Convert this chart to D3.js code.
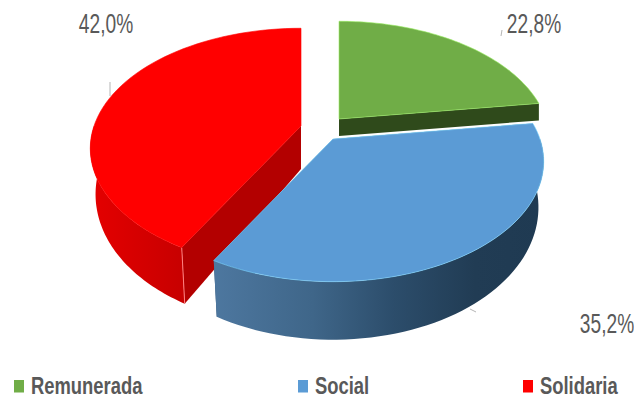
<!DOCTYPE html>
<html>
<head>
<meta charset="utf-8">
<script src="https://cdn.jsdelivr.net/npm/d3@7/dist/d3.min.js"></script>
<style>
html,body{margin:0;padding:0;background:#fff}
svg{display:block}
text{font-family:"Liberation Sans",sans-serif;fill:#595959}
</style>
</head>
<body>
<svg id="chart" width="634" height="402"></svg>
<script>
// Time use by kind of work, shown as an exploded 3D pie
const categories = ["Remunerada", "Social", "Solidaria"];
const shares = [22.8, 35.2, 42.0];
const shareLabels = ["22,8%", "35,2%", "42,0%"];

const topColors = ["#70ad47", "#5b9bd5", "#ff0000"];
const innerWallColors = ["#2f4a1b", "#2f5272", "#b30000"];

// Camera and per-slice layout, indexed like the categories
const radius = 207, tilt = 116, perspective = 0.187;
const apexes = [[339, 119], [333, 139], [301, 126]];
const depthAtSide = [17, 43, 43], depthGrowth = [0, 15, 15], wallTaper = [1, 0.975, 0.975];
const labelAnchors = [[534, 33], [607, 333], [106, 33]];
const leaderStubs = [[[502, 30], [501, 36]], [[470, 309], [476, 312]], [[110, 82], [110, 96]]];
const legendX = [14, 298, 523];

const svg = d3.select("#chart");
const defs = svg.append("defs");

const blueWall = defs.append("linearGradient").attr("id", "wall-social")
  .attr("gradientUnits", "userSpaceOnUse").attr("x1", 215).attr("x2", 540).attr("y1", 0).attr("y2", 0);
[[0, "#4d779f"], [0.3, "#3f6689"], [0.55, "#2c4d6b"], [0.8, "#213c54"], [1, "#1f3a52"]]
  .forEach(([o, c]) => blueWall.append("stop").attr("offset", o).attr("stop-color", c));

const redWall = defs.append("linearGradient").attr("id", "wall-solidaria")
  .attr("gradientUnits", "userSpaceOnUse").attr("x1", 92).attr("x2", 182).attr("y1", 0).attr("y2", 0);
[[0, "#e40000"], [1, "#c80000"]]
  .forEach(([o, c]) => redWall.append("stop").attr("offset", o).attr("stop-color", c));

const outerWallFill = ["#3a5a22", "url(#wall-social)", "url(#wall-solidaria)"];

const arcs = d3.pie().sort(null).value(d => d)(shares);

// Projects a rim point of slice i; angle 0 is the back of the disc, clockwise
function rim(i, angle, down = 0) {
  const [ax, ay] = apexes[i];
  const c = Math.cos(angle), s = Math.sin(angle);
  const k = 1 / (1 + perspective * c);
  const depth = down ? depthAtSide[i] + depthGrowth[i] * Math.max(0, -c) : 0;
  const taper = down ? wallTaper[i] : 1;
  return [ax + radius * s * k * taper, ay - tilt * c * k + depth];
}
const samples = (a0, a1) => d3.range(0, 61).map(t => a0 + (a1 - a0) * t / 60);
const line = d3.line();

// Short leader stubs, drawn first so the slices sit on top of them
svg.selectAll("path.leader").data(leaderStubs).join("path")
  .attr("class", "leader")
  .attr("d", d => line(d))
  .attr("fill", "none").attr("stroke", "#b5b5b5").attr("stroke-width", 1);

function drawSlice(i) {
  const { startAngle: a0, endAngle: a1 } = arcs[i];
  const g = svg.append("g");
  const [ax, ay] = apexes[i];
  const apexDepth = depthAtSide[i];

  // Walls along the two radial cuts
  [a0, a1].forEach(a => {
    const p = rim(i, a), q = rim(i, a, 1);
    g.append("path")
      .attr("d", line([[ax, ay], p, q, [ax, ay + apexDepth]]) + "Z")
      .attr("fill", innerWallColors[i]);
  });

  // Outer wall: the camera-facing part of the rim only
  const from = Math.max(a0, Math.PI / 2), to = Math.min(a1, Math.PI * 1.5);
  if (to > from) {
    const top = samples(from, to).map(a => rim(i, a));
    const bottom = samples(to, from).map(a => rim(i, a, 1));
    g.append("path").attr("d", line(top.concat(bottom)) + "Z").attr("fill", outerWallFill[i]);
    // Vertical seam at the exposed front corner
    if (i === 2) {
      const p = rim(i, a0), q = rim(i, a0, 1);
      g.append("path").attr("d", line([p, q])).attr("stroke", "#ff8080").attr("stroke-width", 1).attr("fill", "none");
    }
  }

  // Top face
  const outline = [[ax, ay], ...samples(a0, a1).map(a => rim(i, a))];
  g.append("path").attr("d", line(outline) + "Z")
    .attr("fill", topColors[i])
    .attr("stroke", d3.color(topColors[i]).brighter(0.9))
    .attr("stroke-opacity", 0.6).attr("stroke-width", 1).attr("stroke-linejoin", "round");
}

[2, 0, 1].forEach(drawSlice);

// Percentage labels, set in a condensed width
svg.selectAll("text.share").data(shareLabels).join("text")
  .attr("class", "share")
  .attr("transform", (d, i) => `translate(${labelAnchors[i][0]},${labelAnchors[i][1]}) scale(0.71,1)`)
  .attr("text-anchor", "middle")
  .attr("font-size", 27)
  .text(d => d);

// Legend row
const legend = svg.selectAll("g.legend").data(categories).join("g")
  .attr("class", "legend")
  .attr("transform", (d, i) => `translate(${legendX[i]},380)`);
legend.append("rect").attr("width", 10).attr("height", 12.5).attr("fill", (d, i) => topColors[i]);
legend.append("text").attr("transform", "translate(17,14) scale(0.8,1)")
  .attr("font-size", 23).attr("font-weight", "bold").text(d => d);
</script>
</body>
</html>
